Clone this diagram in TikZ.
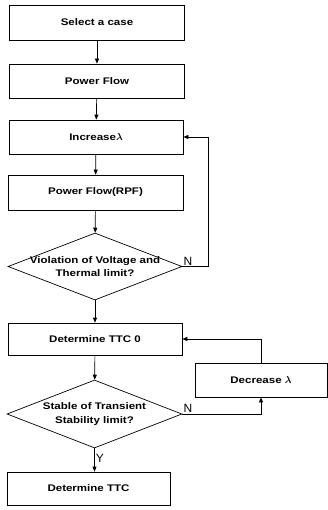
\documentclass[tikz,border=0pt]{standalone}
\usepackage{amsmath,amssymb}
\usepackage{fontspec}
\usetikzlibrary{positioning,arrows.meta,calc,shapes.geometric}
\newfontfamily\flowfont[FakeStretch=1.2]{Liberation Sans}
\newfontfamily\yesnofont{Liberation Sans}
\tikzset{
  fcbox/.style={rectangle, draw=black, line width=0.7pt, inner sep=0pt,
                font=\flowfont\bfseries\fontsize{9.6}{11}\selectfont},
  fcdec/.style={diamond, draw=black, line width=0.7pt, inner sep=0pt},
  fcdeclab/.style={align=center, inner sep=0pt,
                   font=\flowfont\bfseries\fontsize{9.6}{13.5}\selectfont},
  fcarr/.style={draw=black, line width=0.7pt,
                -{Triangle[length=5pt,width=4pt]}},
  fcyn/.style={font=\yesnofont\fontsize{12}{12}\selectfont, inner sep=1pt},
}
\newcommand{\lamb}{$\boldsymbol{\lambda}$}

\begin{document}
\begin{tikzpicture}[x=1pt,y=-1pt]
  \useasboundingbox (0,0) rectangle (328,510);
  % main column
  \node[fcbox, minimum width=175pt, minimum height=35pt] (sel) at (97,22.5) {Select a case};
  \node[fcbox, minimum width=175pt, minimum height=34pt] (pf) at (97,81) {Power Flow};
  \node[fcbox, minimum width=174pt, minimum height=34pt] (inc) at (96,137) {Increase\lamb};
  \node[fcbox, minimum width=175pt, minimum height=35pt] (rpf) at (95.5,192.5) {Power Flow(RPF)};
  \node[fcdec, minimum width=174pt, minimum height=67pt,
        label={[fcdeclab]center:Violation of Voltage and\\Thermal limit?}] (viol) at (95,266.5) {};
  \node[fcbox, minimum width=174pt, minimum height=32pt] (ttc0) at (95,339) {Determine TTC 0};
  \node[fcdec, minimum width=175pt, minimum height=68pt,
        label={[fcdeclab]center:Stable of Transient\\Stability limit?}] (stab) at (94.5,414) {};
  \node[fcbox, minimum width=163pt, minimum height=33pt] (ttc) at (88.5,488.5) {Determine TTC};
  % side box
  \node[fcbox, minimum width=132pt, minimum height=34pt] (dec) at (261,380) {Decrease \lamb};
  % straight flow
  \draw[fcarr] (sel) -- (pf);
  \draw[fcarr] (pf) -- (inc);
  \draw[fcarr] (inc) -- (rpf);
  \draw[fcarr] (rpf) -- (viol);
  \draw[fcarr] (viol) -- (ttc0);
  \draw[fcarr] (ttc0) -- (stab);
  \draw[fcarr] (stab.south) -- node[fcyn, pos=0.45, right]{Y} (stab.south |- ttc.north);
  % loops
  \draw[fcarr] (viol.east) node[fcyn, above right]{N} -- ++(26,0) |- (inc.east);
  \draw[fcarr] (stab.east) node[fcyn, above right]{N} -| (dec.south);
  \draw[fcarr] (dec.north) |- (ttc0.east);
\end{tikzpicture}
\end{document}
